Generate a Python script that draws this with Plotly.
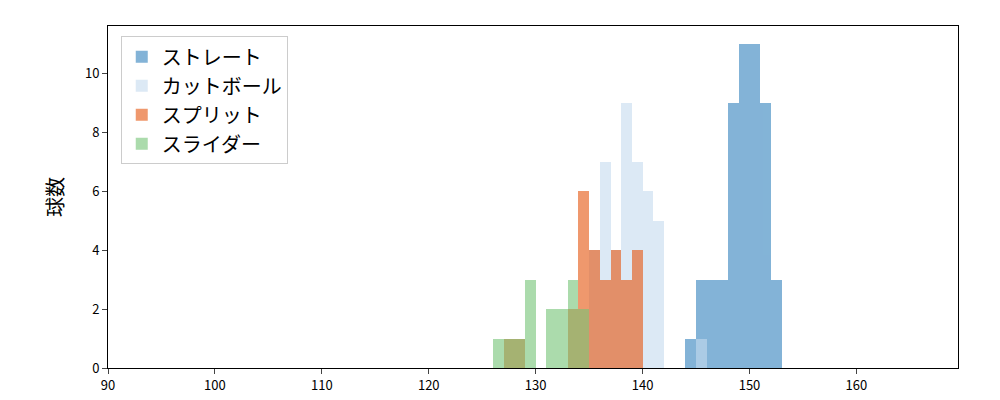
import plotly.graph_objects as go

names = ["ストレート", "カットボール", "スプリット", "スライダー"]
colors = ["#3182bd", "#c6dbef", "#e6550d", "#74c476"]
opac = [0.6, 0.6, 0.6, 0.6]
bins_straight = [144, 145, 146, 147, 148, 149, 150, 151, 152]
cnt_straight = [1, 3, 3, 3, 9, 11, 11, 9, 3]
bins_cut = [135, 136, 137, 138, 139, 140, 141, 145]
cnt_cut = [4, 7, 4, 9, 7, 6, 5, 1]
bins_split = [127, 128, 133, 134, 135, 136, 137, 138, 139]
cnt_split = [1, 1, 2, 6, 4, 3, 4, 3, 4]
bins_slider = [126, 127, 128, 129, 131, 132, 133, 134]
cnt_slider = [1, 1, 1, 3, 2, 2, 3, 2]

data = [(bins_straight, cnt_straight), (bins_cut, cnt_cut), (bins_split, cnt_split), (bins_slider, cnt_slider)]
fig = go.Figure()
for (b, c), n, col, op in zip(data, names, colors, opac):
    fig.add_trace(go.Bar(x=[v + 0.5 for v in b], y=c, width=1, name=n,
                         marker=dict(color=col, line=dict(width=0)), opacity=op))

fig.update_layout(
    barmode="overlay", bargap=0, width=1000, height=400, plot_bgcolor="white", paper_bgcolor="white",
    margin=dict(l=100, r=50, t=18, b=40, autoexpand=False),
    font=dict(family="Noto Sans CJK JP", size=13, color="black"),
    legend=dict(x=0.015, y=0.97, xanchor="left", yanchor="top", bordercolor="#cccccc", borderwidth=1,
                font=dict(size=20), bgcolor="white"),
    xaxis=dict(range=[90, 169.5], tickvals=list(range(90, 170, 10)), ticks="outside", showgrid=False,
               showline=True, linecolor="black", mirror=True, zeroline=False, automargin=False),
    yaxis=dict(range=[0, 11.6], tickvals=list(range(0, 12, 2)), ticks="outside", showgrid=False,
               showline=True, linecolor="black", mirror=True, zeroline=False, automargin=False,
               title=dict(text="球数", font=dict(size=20), standoff=15)),
)
fig.write_html("out.html")
